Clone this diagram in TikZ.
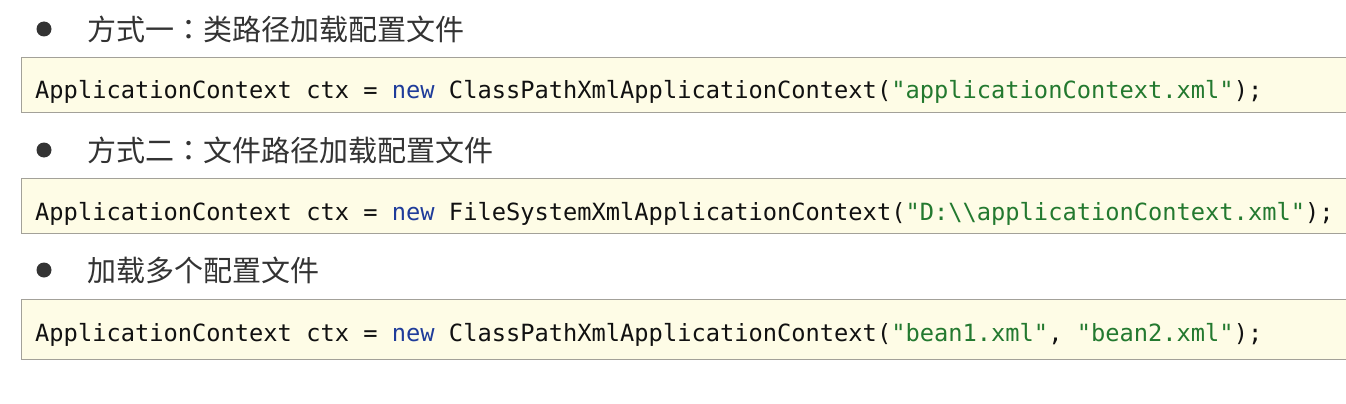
\documentclass[tikz,border=0pt]{standalone}
\usepackage{fontspec}
\setmonofont{DejaVu Sans Mono}
\newfontfamily\cjk{Noto Sans CJK SC}
\newfontfamily\cjktc{Noto Sans CJK TC}
\usetikzlibrary{positioning}

\definecolor{boxfill}{HTML}{FEFCE6}
\definecolor{boxline}{HTML}{A3A199}
\definecolor{kwblue}{HTML}{1F3C9A}
\definecolor{strgreen}{HTML}{23792F}
\definecolor{textgray}{HTML}{333333}
\definecolor{codeblack}{HTML}{111111}

\newcommand{\midcolon}{{\cjktc ：}}

\begin{document}
\begin{tikzpicture}
		[x=1pt,y=-1pt,
		%Styles
		bullet dot/.style={circle,fill=textgray,inner sep=0pt,minimum size=15pt},
		item text/.style={anchor=base west,inner sep=0pt,text=textgray,font=\cjk\fontsize{29}{34}\selectfont},
		code box/.style={draw=boxline,fill=boxfill,line width=1pt,anchor=north west,inner sep=0pt,minimum width=1335pt},
		code text/.style={anchor=base west,inner sep=0pt,text=codeblack,font=\ttfamily\fontsize{23.7}{28}\selectfont}
		]
		
		\fill[white] (0,0) rectangle (1346,404);
		\useasboundingbox (0,0) rectangle (1346,404);
		
		%first way
		\node[bullet dot] (b1) at (44,29) {};
		\node[item text] (t1) at (87,40.5) {方式一\midcolon 类路径加载配置文件};
		\node[code box,minimum height=55pt] (box1) at (21,57) {};
		\node[code text] (c1) at (35,99) {ApplicationContext ctx = \textcolor{kwblue}{new} ClassPathXmlApplicationContext(\textcolor{strgreen}{"applicationContext.xml"});};
		
		%second way
		\node[bullet dot] (b2) at (44,150) {};
		\node[item text] (t2) at (87,161.5) {方式二\midcolon 文件路径加载配置文件};
		\node[code box,minimum height=55pt] (box2) at (21,178) {};
		\node[code text] (c2) at (35,220) {ApplicationContext ctx = \textcolor{kwblue}{new} FileSystemXmlApplicationContext(\textcolor{strgreen}{"D:\textbackslash\textbackslash applicationContext.xml"});};
		
		%several files
		\node[bullet dot] (b3) at (44,270) {};
		\node[item text] (t3) at (87,281.5) {加载多个配置文件};
		\node[code box,minimum height=60pt] (box3) at (21,299) {};
		\node[code text] (c3) at (35,341) {ApplicationContext ctx = \textcolor{kwblue}{new} ClassPathXmlApplicationContext(\textcolor{strgreen}{"bean1.xml"}, \textcolor{strgreen}{"bean2.xml"});};
	\end{tikzpicture}
\end{document}
